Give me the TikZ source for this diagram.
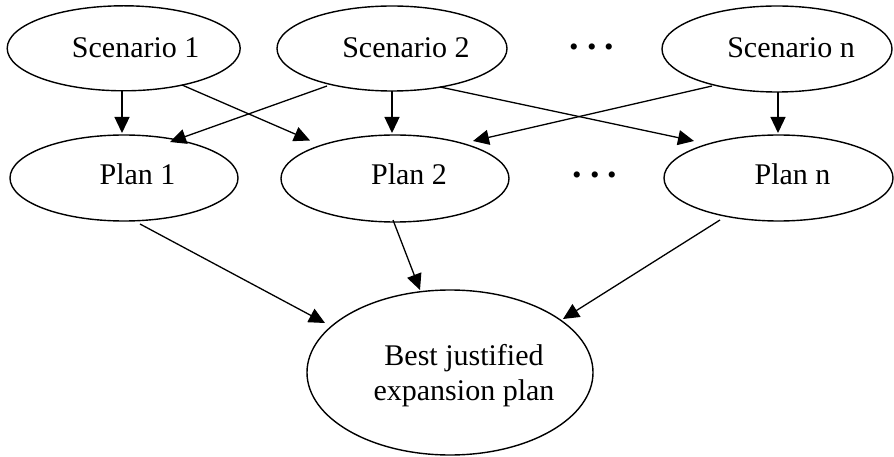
\documentclass[tikz,border=0pt]{standalone}
\usepackage{fontspec}
\setmainfont{Liberation Serif}
\usetikzlibrary{arrows.meta,shapes.geometric,calc}
\begin{document}
\begin{tikzpicture}[x=1pt,y=-1pt,
  oval/.style={draw, ellipse, line width=1.4pt, inner sep=0pt},
  lbl/.style={anchor=base, inner sep=0pt, font=\fontsize{30}{35}\selectfont},
  dotrow/.style={anchor=base, inner sep=0pt, font=\fontsize{38}{40}\selectfont\bfseries},
  link/.style={line width=1.3pt, -{Triangle[length=16pt,width=15pt]}}]
\useasboundingbox (0,0) rectangle (894,457);

% scenario row
\node[oval, minimum width=233pt, minimum height=85pt] (s1) at (123.7,48.3) {};
\node[oval, minimum width=230pt, minimum height=85pt] (s2) at (392,48.5) {};
\node[oval, minimum width=230pt, minimum height=86pt] (sn) at (777,49) {};
\node[lbl] (s1t) at ($(s1.center)+(12,9.7)$) {Scenario 1};
\node[lbl] (s2t) at ($(s2.center)+(14,9.5)$) {Scenario 2};
\node[lbl] (snt) at ($(sn.center)+(14,9)$) {Scenario n};
\node[dotrow] (sdots) at (592,50) {.\kern8pt.\kern8pt.};

% plan row
\node[oval, minimum width=228pt, minimum height=86pt] (p1) at (124,178) {};
\node[oval, minimum width=228pt, minimum height=87pt] (p2) at (395,178.5) {};
\node[oval, minimum width=229pt, minimum height=86pt] (pn) at (778.5,178) {};
\node[lbl] (p1t) at ($(p1.center)+(13.5,7)$) {Plan 1};
\node[lbl] (p2t) at ($(p2.center)+(14,6.5)$) {Plan 2};
\node[lbl] (pnt) at ($(pn.center)+(14,7)$) {Plan n};
\node[dotrow] (pdots) at (595,178) {.\kern8pt.\kern8pt.};

% result
\node[oval, minimum width=286pt, minimum height=165pt] (best) at (450,372.5) {};
\node[lbl] (bt1) at ($(best.center)+(14,-7.5)$) {Best justified};
\node[lbl] (bt2) at ($(best.center)+(14,27.5)$) {expansion plan};

% scenarios to plans
\draw[link] ($(s1.center)+(-1.7,42.7)$) -- ($(p1.center)+(-2,-45)$);
\draw[link] ($(s1.center)+(58.3,36.7)$) -- ($(p2.center)+(-85,-38)$);
\draw[link] ($(s2.center)+(-65,37.5)$) -- ($(p1.center)+(46,-36)$);
\draw[link] ($(s2.center)+(0,42.5)$) -- ($(p2.center)+(-3,-45.5)$);
\draw[link] ($(s2.center)+(48,38.5)$) -- ($(pn.center)+(-84.5,-37)$);
\draw[link] ($(sn.center)+(-65,37)$) -- ($(p2.center)+(78,-37.5)$);
\draw[link] ($(sn.center)+(1,43)$) -- ($(pn.center)+(-0.5,-45)$);

% plans to result
\draw[link] ($(p1.center)+(16,46)$) -- ($(best.center)+(-125,-49.5)$);
\draw[link] ($(p2.center)+(-2,41.5)$) -- ($(best.center)+(-30,-82.5)$);
\draw[link] ($(pn.center)+(-58.5,42)$) -- ($(best.center)+(113,-53.5)$);
\end{tikzpicture}
\end{document}
